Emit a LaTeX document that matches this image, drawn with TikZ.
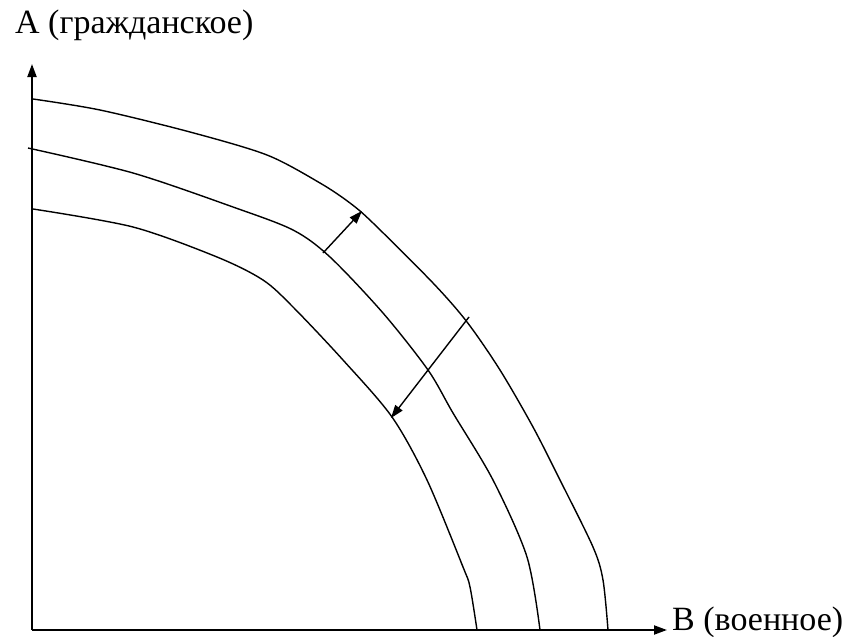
\documentclass[tikz,border=0pt]{standalone}
\usepackage{fontspec}
\setmainfont{Liberation Serif}
\usetikzlibrary{arrows.meta, positioning}

\begin{document}
\begin{tikzpicture}[x=1pt, y=-1pt,
        axis/.style={-{Triangle[length=13pt, width=9pt]}, line width=2pt},
        ppf/.style={line width=1.4pt},
        move/.style={-{Triangle[length=13pt, width=9pt]}, line width=1.4pt},
        lbl/.style={font=\fontsize{34}{40}\selectfont, inner sep=0pt}
      ]
        \useasboundingbox (0,0) rectangle (852,637);
        % axes
        \coordinate (O) at (32,630);
        \coordinate (ytop) at (32,64);
        \coordinate (xend) at (667,630);
        \draw[axis] (O) -- (ytop);
        \draw[axis] (O) -- (xend);
        \node[lbl, anchor=base west] (ylab) at (15,34) {A (гражданское)};
        \node[lbl, anchor=base west] (xlab) at (672,630) {B (военное)};
        % curves
        \draw[ppf] plot[smooth, tension=0.5] coordinates {(33,99) (100,110) (190,132) (267,155)
            (320,183) (350,203) (373,223) (433,283) (467,322) (500,370) (533,427) (560,480)
            (593,547) (603,580) (608,630)};
        \draw[ppf] plot[smooth, tension=0.5] coordinates {(28,148) (133,173) (233,207) (293,230)
            (330,257) (383,313) (428,370) (453,413) (493,480) (527,557) (540,630)};
        \draw[ppf] plot[smooth, tension=0.5] coordinates {(33,209) (133,227) (217,257) (263,280)
            (293,307) (343,360) (392,417) (427,480) (463,567) (470,587) (477,630)};
        % shifts
        \coordinate (m1) at (323,253);
        \coordinate (o1) at (362,211);
        \coordinate (o2) at (469,317);
        \coordinate (i2) at (391,418);
        \draw[move] (m1) -- (o1);
        \draw[move] (o2) -- (i2);
      \end{tikzpicture}
\end{document}
